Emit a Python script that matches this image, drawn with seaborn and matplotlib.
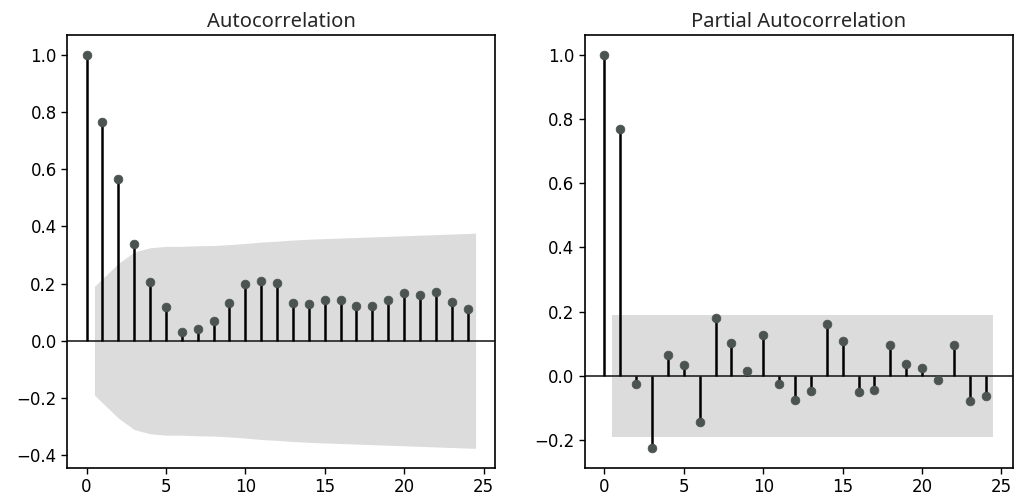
import numpy as np
import pandas as pd
import matplotlib
matplotlib.use('Agg')
import matplotlib.pyplot as plt
import seaborn as sns

# lags shown on both panels
lags = list(range(25))

# autocorrelation values
acf_vals = [1.0, 0.763, 0.565, 0.339, 0.204, 0.118, 0.031, 0.041, 0.070, 0.133,
            0.200, 0.209, 0.201, 0.133, 0.127, 0.142, 0.142, 0.121, 0.121, 0.142,
            0.166, 0.161, 0.172, 0.137, 0.111]
# half-width of the ACF confidence band for lags 1..24
acf_band = [0.19, 0.27, 0.31, 0.325, 0.33, 0.33, 0.332, 0.333, 0.336, 0.34,
            0.345, 0.348, 0.352, 0.355, 0.357, 0.359, 0.361, 0.363, 0.365, 0.367,
            0.369, 0.371, 0.373, 0.376]

# partial autocorrelation values
pacf_vals = [1.0, 0.769, -0.026, -0.225, 0.065, 0.034, -0.143, 0.180, 0.104, 0.017,
             0.129, -0.026, -0.073, -0.048, 0.163, 0.110, -0.049, -0.044, 0.097, 0.036,
             0.026, -0.011, 0.098, -0.077, -0.061]
# half-width of the PACF confidence band for lags 1..24
pacf_band = [0.19] * 24

sns.set_style('ticks')
plt.rcParams['font.family'] = ['DejaVu Sans']

fig, axes = plt.subplots(1, 2, figsize=(10.16, 4.99), dpi=100)
plt.subplots_adjust(left=0.066, right=0.997, top=0.93, bottom=0.062, wspace=0.21)

marker_col = '#4c5452'
band_col = '#dcdcdc'


def stem_panel(ax, vals, band, title):
    df = pd.DataFrame({'lag': lags, 'value': vals})
    # confidence band, shifted half a lag at both ends
    bx = np.array(lags[1:], dtype=float)
    bx[0] -= 0.5
    bx[-1] += 0.5
    b = np.array(band)
    ax.fill_between(bx, -b, b, color=band_col, alpha=1.0, lw=0, zorder=1)
    ax.axhline(0, color='#222222', lw=1.2, zorder=2)
    ax.vlines(df['lag'], 0, df['value'], color='black', lw=1.8, zorder=3)
    sns.scatterplot(data=df, x='lag', y='value', ax=ax, color=marker_col,
                    s=40, edgecolor=marker_col, linewidth=0.5, zorder=4)
    ax.set_title(title, fontsize=14.5, family=['Noto Sans', 'DejaVu Sans'], pad=6)
    ax.set_xlabel('')
    ax.set_ylabel('')
    ax.set_xticks([0, 5, 10, 15, 20, 25])
    ax.tick_params(labelsize=12, length=4, width=1, colors='black')
    for sp in ax.spines.values():
        sp.set_visible(True)
        sp.set_color('black')
        sp.set_linewidth(1.2)
    ax.margins(0.05)


stem_panel(axes[0], acf_vals, acf_band, 'Autocorrelation')
stem_panel(axes[1], pacf_vals, pacf_band, 'Partial Autocorrelation')

axes[0].set_yticks([-0.4, -0.2, 0.0, 0.2, 0.4, 0.6, 0.8, 1.0])
axes[1].set_yticks([-0.2, 0.0, 0.2, 0.4, 0.6, 0.8, 1.0])

plt.savefig('out.png', dpi=100)
plt.close()
